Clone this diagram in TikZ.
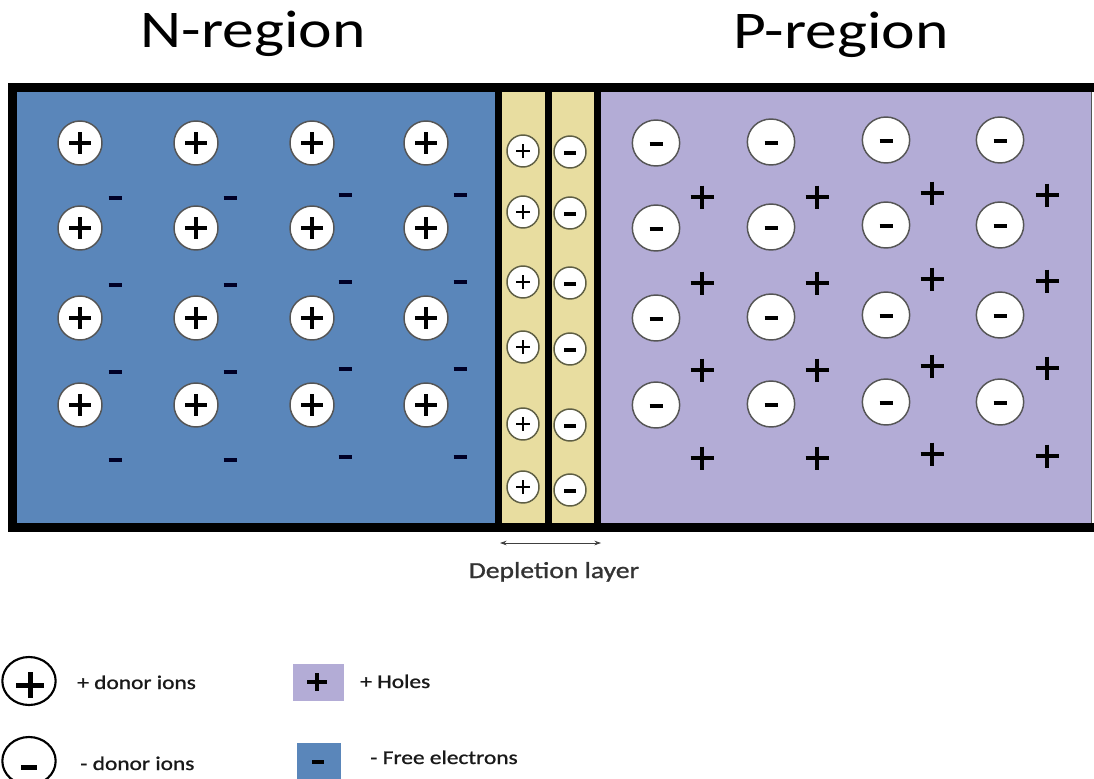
\documentclass[tikz,border=0pt]{standalone}
\usepackage{fontspec}
\setmainfont{Carlito}
\newfontfamily\heavyfont{Carlito}[FakeBold=1.0]
\usetikzlibrary{arrows.meta,shapes.geometric}
\definecolor{nblue}{HTML}{5A86BA}
\definecolor{ppurple}{HTML}{B3ACD6}
\definecolor{dyellow}{HTML}{E8DDA0}
\definecolor{ringgray}{HTML}{555555}
\tikzset{
  ncirc/.style={circle,draw=ringgray,line width=1.1pt,fill=white,minimum size=33pt,inner sep=0pt},
  pcirc/.style={ellipse,draw=ringgray,line width=1.1pt,fill=white,minimum width=35.5pt,minimum height=34.5pt,inner sep=0pt},
  dcirc/.style={circle,draw=ringgray!80!olive,line width=1.1pt,fill=white,minimum size=24pt,inner sep=0pt},
  bigtitle/.style={font=\fontsize{39.75}{46}\selectfont,xscale=1.2,anchor=base,inner sep=0pt},
  legtext/.style={font=\heavyfont\fontsize{14.6}{17}\selectfont,xscale=1.2,anchor=base west,inner sep=0pt,text=black!90},
  sepline/.style={line width=5.25pt},
  signline/.style={line width=#1,line cap=butt},
}
\begin{document}
\begin{tikzpicture}[x=0.75pt,y=-0.75pt]
\useasboundingbox (0,0) rectangle (1094,778);
\clip (0,0) rectangle (1094,778);
% fills
\fill[nblue] (12,88) rectangle (498,527);
\fill[dyellow] (498,88) rectangle (597,527);
\fill[ppurple] (597,88) rectangle (1091,527);
% borders
\draw[line width=6.5pt,line join=miter] (1094,87.5) -- (12.5,87.5) -- (12.5,527.5) -- (1094,527.5);
\draw[ringgray,line width=0.8pt] (1091.5,92) -- (1091.5,523);
\draw[sepline] (498.5,87) -- (498.5,528);
\draw[sepline] (548.5,87) -- (548.5,528);
\draw[sepline] (597,87) -- (597,528);
% titles
\node[bigtitle] (ntitle) at (253,47) {N-region};
\node[bigtitle] (ptitle) at (841,48) {P-region};
% N region donor ions
\foreach \x [count=\i] in {80,196,312,426}{
  \foreach \y [count=\j] in {143,228,318,405}{
    \node[ncirc] (n\i\j) at (\x,\y) {};
    \draw[signline=3.2pt,shift={(\x,\y)}] (-11,0) -- (11,0) (0,-11) -- (0,11);
  }
}
% N region free electrons
\foreach \x/\dy [count=\i] in {115/0,230/0,345/-3,460/-3}{
  \foreach \y [count=\j] in {198,285,372,460}{
    \draw[signline=2.6pt,color=black!85!blue,shift={(\x,\y+\dy)}] (-6.5,0) -- (6.5,0);
  }
}
% P region acceptor ions
\foreach \x/\dy [count=\i] in {656/0,771/-1,886/-3,1000/-3}{
  \foreach \y [count=\j] in {143,228,318,405}{
    \node[pcirc] (p\i\j) at (\x,\y+\dy) {};
    \draw[signline=3pt,shift={(\x,\y+\dy+1)}] (-6.5,0) -- (6.5,0);
  }
}
% P region holes
\foreach \x/\dy [count=\i] in {702/0,817/0,932/-4,1047/-2}{
  \foreach \y [count=\j] in {197,283,370,458}{
    \draw[signline=2.7pt,shift={(\x,\y+\dy)}] (-11.5,0) -- (11.5,0) (0,-11.5) -- (0,11.5);
  }
}
% depletion layer
\foreach \y/\yy [count=\j] in {151/152,212/213,282/283,347/349,424/425,487/490}{
  \node[dcirc] (dp\j) at (523,\y) {};
  \draw[signline=1.9pt,shift={(523,\y)}] (-7,0) -- (7,0) (0,-7) -- (0,7);
  \node[dcirc] (dm\j) at (570,\yy) {};
  \draw[signline=2.4pt,shift={(570,\yy+1)}] (-6,0) -- (6,0);
}
\coordinate (dl) at (500,543);
\coordinate (dr) at (601,543);
\draw[black!75,line width=0.6pt,{Stealth[length=5pt,width=3.5pt]}-{Stealth[length=5pt,width=3.5pt]}] (dl) -- (dr);
\node[font=\heavyfont\fontsize{17.25}{20}\selectfont,xscale=1.2,anchor=base,inner sep=0pt,text=black!80] (dlabel) at (554,578) {Depletion layer};
% legend
\node[ellipse,draw,line width=1.6pt,minimum width=40pt,minimum height=36pt,inner sep=0pt] (lplus) at (29,681) {};
\draw[signline=3.75pt,shift={(30,685)}] (-14,0) -- (14,0) (0,-13) -- (0,13);
\node[legtext] (tplus) at (77,689) {+ donor ions};
\node[ellipse,draw,line width=1.6pt,minimum width=40pt,minimum height=36pt,inner sep=0pt] (lminus) at (29,761) {};
\draw[signline=3.75pt,shift={(29,767)}] (-8,0) -- (8,0);
\node[legtext] (tminus) at (80,770) {- donor ions};
\node[fill=ppurple,minimum width=38.25pt,minimum height=27.75pt,inner sep=0pt] (lhole) at (318.5,682.5) {};
\draw[signline=3pt,shift={(317,682)}] (-10,0) -- (10,0) (0,-9) -- (0,9);
\node[legtext] (thole) at (360,688) {+ Holes};
\node[fill=nblue,minimum width=33pt,minimum height=31.5pt,inner sep=0pt] (lelec) at (319,764) {};
\draw[signline=3pt,shift={(318,762)}] (-6,0) -- (6,0);
\node[legtext] (telec) at (370,764) {- Free electrons};
\end{tikzpicture}
\end{document}
